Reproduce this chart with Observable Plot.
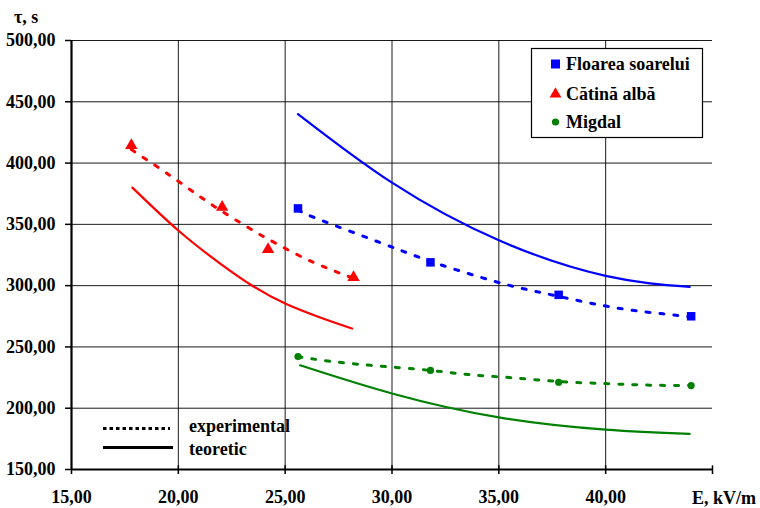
<!DOCTYPE html>
<html><head><meta charset="utf-8">
<script src="https://cdn.jsdelivr.net/npm/d3@7"></script>
<script src="https://cdn.jsdelivr.net/npm/@observablehq/plot@0.6"></script>
<style>body{margin:0;background:#fff}</style>
</head><body><div id="chart"></div>
<script>
// ---- data ----
const seriesNames = ["Floarea soarelui", "Cătină albă", "Migdal"];
const seriesColors = ["#0000ff", "#ff0000", "#008000"];
const xTicks = [15, 20, 25, 30, 35, 40, 45];
const yTicks = [150, 200, 250, 300, 350, 400, 450, 500];

// experimental points
const floareaX = [25.6, 31.8, 37.8, 44.0];
const floareaY = [363, 319, 292.5, 275];
const catinaX = [17.8, 22.05, 24.2, 28.2];
const catinaY = [414.5, 364, 329.5, 306.8];
const migdalX = [25.6, 31.8, 37.8, 44.0];
const migdalY = [242.2, 230.8, 221.2, 218.5];

// experimental trend (dotted)
const floareaExpX = [25.6, 26.3, 28.4, 30.3, 32.2, 34.9, 36.8, 38.8, 40.8, 42.7, 44.0];
const floareaExpY = [362, 356, 342, 329.5, 317.5, 303, 295, 287.5, 281, 277, 274.5];
const catinaExpX = [17.8, 19.6, 20.9, 22.1, 23.5, 24.2, 25.6, 27.0, 28.2];
const catinaExpY = [411, 390, 374, 360, 345, 338, 325, 314, 306];
const migdalExpX = [25.6, 27.0, 29.0, 31.7, 33.55, 35.5, 37.8, 40.1, 42.05, 43.93];
const migdalExpY = [242, 238.5, 235, 231, 227.5, 225, 221.8, 220, 218.8, 218.5];

// theoretical (solid)
const floareaTeoX = [25.6, 30.0, 35.0, 40.0, 43.93];
const floareaTeoY = [440, 384, 337, 308, 299];
const catinaTeoX = [17.85, 20.0, 21.96, 23.5, 25.05, 26.8, 28.13];
const catinaTeoY = [380, 345, 318, 299.5, 285, 273, 265];
const migdalTeoX = [25.7, 30.0, 35.0, 40.0, 43.93];
const migdalTeoY = [235, 212, 192.5, 182.5, 179];

const styleLabels = ["experimental", "teoretic"];

// ---- build tables ----
const zipRows = (xs, ys, s) => xs.map((x, i) => ({x, y: ys[i], s}));
const pts = {
  f: zipRows(floareaX, floareaY, seriesNames[0]),
  c: zipRows(catinaX, catinaY, seriesNames[1]),
  m: zipRows(migdalX, migdalY, seriesNames[2])
};
const expRows = [
  ...zipRows(floareaExpX, floareaExpY, seriesNames[0]),
  ...zipRows(catinaExpX, catinaExpY, seriesNames[1]),
  ...zipRows(migdalExpX, migdalExpY, seriesNames[2])
];
const teoRows = [
  ...zipRows(floareaTeoX, floareaTeoY, seriesNames[0]),
  ...zipRows(catinaTeoX, catinaTeoY, seriesNames[1]),
  ...zipRows(migdalTeoX, migdalTeoY, seriesNames[2])
];

const fmt = d => d.toFixed(2).replace(".", ",");
const FONT = "'Liberation Serif', 'Times New Roman', serif";

const plot = Plot.plot({
  width: 760, height: 508,
  marginLeft: 71, marginRight: 48, marginTop: 40, marginBottom: 39,
  style: {fontFamily: FONT, fontSize: "18px", fontWeight: "bold", background: "#fff", color: "#000"},
  x: {domain: [15, 45]},
  y: {domain: [150, 500]},
  color: {domain: seriesNames, range: seriesColors},
  marks: [
    Plot.gridY(yTicks.slice(1), {stroke: "#000", strokeOpacity: 0.9, strokeWidth: 1}),
    Plot.gridX(xTicks.slice(1, -1), {stroke: "#000", strokeOpacity: 0.9, strokeWidth: 1}),
    Plot.ruleY([150], {stroke: "#000", strokeWidth: 2.2}),
    Plot.ruleX([15], {stroke: "#000", strokeWidth: 2.2}),
    Plot.ruleX(xTicks.slice(1), {y1: 150, y2: 153, stroke: "#000", strokeWidth: 1.5}),
    Plot.axisY({ticks: yTicks, tickFormat: fmt, tickSize: 6, tickPadding: 10, label: null, fontSize: 18, fontWeight: "bold", strokeWidth: 1.5}),
    Plot.axisX({ticks: xTicks, tickFormat: d => d === 45 ? "" : fmt(d), tickSize: 5, tickPadding: 16, label: null, fontSize: 18, fontWeight: "bold", strokeWidth: 1.5}),
    Plot.line(teoRows, {x: "x", y: "y", z: "s", stroke: "s", strokeWidth: 2.2, curve: "natural"}),
    Plot.line(expRows, {x: "x", y: "y", z: "s", stroke: "s", strokeWidth: 3, strokeDasharray: "4,10", curve: "natural"}),
    Plot.dot(pts.f, {x: "x", y: "y", symbol: "square", r: 4.8, fill: seriesColors[0], stroke: null}),
    Plot.dot(pts.c, {x: "x", y: "y", symbol: "triangle", r: 4.6, fill: seriesColors[1], stroke: null}),
    Plot.dot(pts.m, {x: "x", y: "y", symbol: "circle", r: 3.6, fill: seriesColors[2], stroke: null})
  ]
});

// ---- overlays: axis titles and legends ----
const svg = d3.select(plot);
const addText = (x, y, t, anchor = "start") =>
  svg.append("text").attr("x", x).attr("y", y).attr("text-anchor", anchor)
    .attr("font-family", FONT).attr("font-size", 18).attr("font-weight", "bold").attr("fill", "#000").text(t);

addText(14, 23, "τ, s");
addText(692, 504, "E, kV/m");

// series legend box
const lg = svg.append("g");
lg.append("rect").attr("x", 531.5).attr("y", 48.5).attr("width", 171).attr("height", 89)
  .attr("fill", "#fff").attr("stroke", "#000").attr("stroke-width", 1.2);
const ly = [64, 94, 122];
lg.append("rect").attr("x", 551).attr("y", ly[0] - 4.5).attr("width", 9).attr("height", 9).attr("fill", seriesColors[0]);
lg.append("path").attr("d", d3.symbol(d3.symbolTriangle, 60)()).attr("transform", `translate(555.5,${ly[1]})`).attr("fill", seriesColors[1]);
lg.append("circle").attr("cx", 555.5).attr("cy", ly[2]).attr("r", 3.6).attr("fill", seriesColors[2]);
seriesNames.forEach((n, i) => {
  lg.append("text").attr("x", 566).attr("y", ly[i] + 6).attr("text-anchor", "start")
    .attr("font-family", FONT).attr("font-size", 18)
    .attr("font-weight", "bold").attr("fill", "#000").text(n);
});

// line style legend
svg.append("line").attr("x1", 103).attr("x2", 170).attr("y1", 428.5).attr("y2", 428.5)
  .attr("stroke", "#000").attr("stroke-width", 3).attr("stroke-dasharray", "3.5,3");
svg.append("line").attr("x1", 103).attr("x2", 173).attr("y1", 447.5).attr("y2", 447.5)
  .attr("stroke", "#000").attr("stroke-width", 3);
addText(189, 432, styleLabels[0]);
addText(189, 455, styleLabels[1]);

document.getElementById("chart").append(plot);
</script>
</body></html>
